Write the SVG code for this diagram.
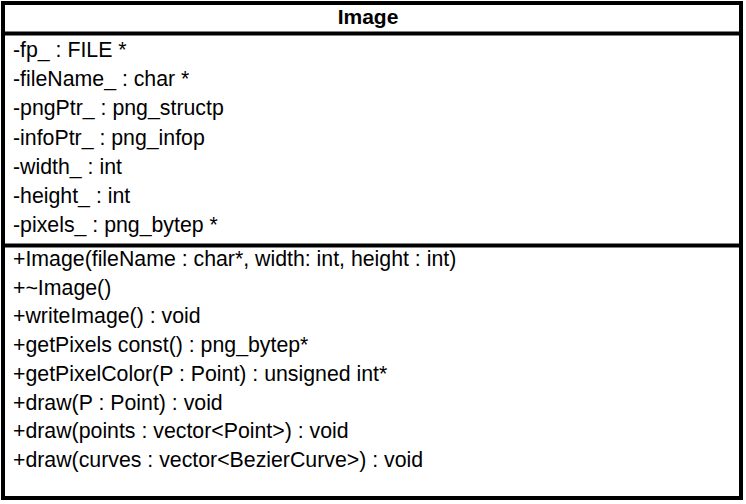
<svg xmlns="http://www.w3.org/2000/svg" width="746" height="504" viewBox="0 0 746 504">
<style>
.t{font-family:"Liberation Sans",Arial,sans-serif;font-size:21.3px;fill:#000}
.h{font-family:"Liberation Sans",Arial,sans-serif;font-size:21px;font-weight:bold;fill:#000}
.b{fill:#fff;stroke:#000;stroke-width:4}
.l{stroke:#000;stroke-width:4}
</style>
<rect width="746" height="504" fill="#fff"/>
<g id="Image">
<rect class="b" x="3" y="3" width="738" height="495"/>
<line class="l" x1="3" y1="33.5" x2="741" y2="33.5"/>
<line class="l" x1="3" y1="245.5" x2="741" y2="245.5"/>
<text class="h" x="368" y="24" text-anchor="middle">Image</text>
<text class="t" x="13" y="57">-fp_ : FILE *</text>
<text class="t" x="13" y="86.2">-fileName_ : char *</text>
<text class="t" x="13" y="115.4">-pngPtr_ : png_structp</text>
<text class="t" x="13" y="144.6">-infoPtr_ : png_infop</text>
<text class="t" x="13" y="173.8">-width_ : int</text>
<text class="t" x="13" y="203">-height_ : int</text>
<text class="t" x="13" y="232.2">-pixels_ : png_bytep *</text>
<text class="t" x="13" y="266">+Image(fileName : char*, width: int, height : int)</text>
<text class="t" x="13" y="294.7">+~Image()</text>
<text class="t" x="13" y="323.4">+writeImage() : void</text>
<text class="t" x="13" y="352.1">+getPixels const() : png_bytep*</text>
<text class="t" x="13" y="380.8">+getPixelColor(P : Point) : unsigned int*</text>
<text class="t" x="13" y="409.5">+draw(P : Point) : void</text>
<text class="t" x="13" y="438.2">+draw(points : vector&lt;Point&gt;) : void</text>
<text class="t" x="13" y="466.9">+draw(curves : vector&lt;BezierCurve&gt;) : void</text>
</g>
<g id="connectors"></g>
</svg>
